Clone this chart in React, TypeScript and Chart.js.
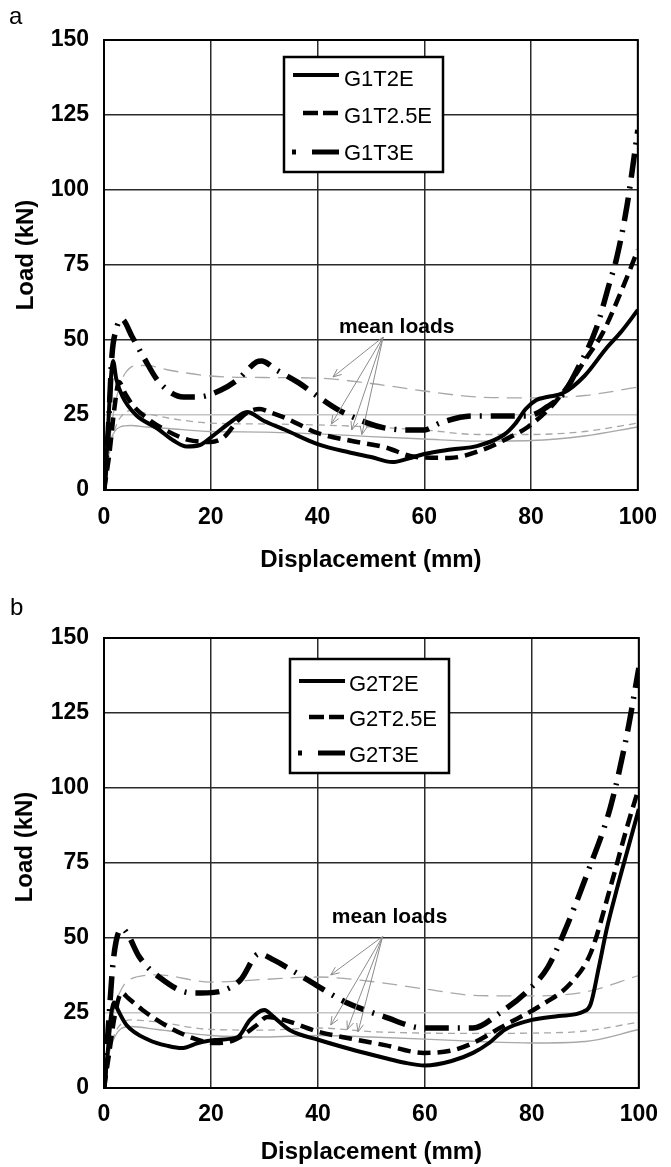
import React, { useEffect, useRef } from 'react';
import { Chart, registerables } from 'chart.js';

Chart.register(...registerables);

const FONT = '"Liberation Sans", Arial, Helvetica, sans-serif';
Chart.defaults.font.family = FONT;

// ---------- Panel a ----------
const G1T2E_X = [0, 0.6, 1.2, 1.7, 2.3, 3.5, 6, 10, 13, 15.5, 18, 20, 24, 26.8, 30, 34, 40, 46, 50, 54, 57, 60, 65, 70, 75, 77, 79, 81, 83, 86, 90, 94, 97, 100];
const G1T2E_Y = [0, 15, 35, 43, 37, 31, 25, 20.5, 16.5, 14.5, 15, 17.5, 23, 26, 23, 20, 15.3, 12.5, 11, 9.3, 10.5, 12, 13.5, 14.7, 18.5, 22, 27, 30, 31, 32.3, 38, 47, 53, 60];

const G1T25E_X = [0, 1, 2, 2.8, 4, 5.5, 8, 11.5, 15.8, 20, 22.5, 25, 27, 29.2, 31, 34, 40, 46, 52.5, 58.5, 64.7, 70.8, 75, 79.4, 83.7, 87.3, 90, 93.4, 97, 100];
const G1T25E_Y = [0, 12, 28, 36, 32, 28, 24, 20, 16.7, 16, 17.7, 23, 26, 27, 26, 24, 19, 16.5, 14.3, 11, 10.7, 13.3, 16.7, 21, 27.7, 35.7, 43, 52.3, 66.7, 80];

const G1T3E_X = [0, 0.8, 1.5, 2.2, 3.3, 5.3, 7.5, 10.3, 14.9, 17.6, 21.9, 25, 28.6, 29.5, 32.3, 36.5, 40.2, 43.9, 49.4, 52.5, 56.7, 60, 62.9, 69, 75, 79.4, 83, 86, 88.6, 92.3, 94.7, 96, 98, 100];
const G1T3E_Y = [0, 20, 45, 53, 57, 51, 44, 36, 31, 31, 33.3, 36.7, 42.7, 43, 40, 35.7, 31, 26.7, 22.3, 20.7, 20, 20, 22.3, 24.7, 24.7, 24.7, 27.7, 32, 40, 54.3, 69, 77, 95, 120];

const G1T2E_MEAN_X = [0, 0.5, 1, 2, 3, 5, 8, 12, 20, 30, 40, 50, 60, 70, 80, 90, 100];
const G1T2E_MEAN_Y = [0, 8, 15, 19.5, 21, 21.5, 21, 20.5, 19.5, 19.3, 18.7, 17.8, 17, 16.3, 16.5, 18, 21];
const G1T25E_MEAN_X = [0, 0.5, 1, 2, 3, 5, 8, 12, 20, 30, 40, 50, 60, 70, 80, 90, 100];
const G1T25E_MEAN_Y = [0, 6, 12, 20, 24, 26.5, 25.5, 24, 22.3, 22, 21.7, 21, 20, 18.5, 18.5, 19.5, 22.3];
const G1T3E_MEAN_X = [0, 0.5, 1, 2, 3, 4, 6, 8, 12, 20, 30, 40, 50, 60, 70, 80, 90, 100];
const G1T3E_MEAN_Y = [0, 8, 16, 28, 35, 39, 41.5, 41.5, 40, 38, 37.5, 37.3, 35.5, 33, 31, 30.7, 31.5, 34.3];

const A_LABELS = ['G1T2E', 'G1T2.5E', 'G1T3E'];
const A_MEAN_TEXT_AT = [44.0, 52.5];
const A_ARROW_FROM = [52.3, 51];
const A_ARROW_TO_X = [42.9, 42.6, 46.4, 48.3];
const A_ARROW_TO_Y = [37.7, 22, 20, 18.5];

// ---------- Panel b ----------
const G2T2E_X = [0, 0.7, 1.3, 1.9, 2.6, 4.2, 8.4, 12, 14.5, 17.6, 20.7, 25, 27.3, 30, 31.7, 34.7, 40.2, 46, 52.5, 56, 60, 65, 69, 72, 75, 80, 85, 89.7, 91, 92.5, 94, 96, 98, 100];
const G2T2E_Y = [0, 12, 24, 28.5, 26, 21, 16, 14, 13.3, 15, 16, 17, 22.7, 26, 23.7, 19.3, 16, 13, 10, 8.5, 7.5, 9, 11.7, 15, 19.5, 22.7, 24, 25.5, 28, 40, 53, 67, 80, 93];

const G2T25E_X = [0, 1, 2, 3.3, 4.5, 7.2, 12.1, 17.6, 20.7, 24.4, 28.6, 30.5, 33.6, 40.2, 46, 52.5, 59.8, 65, 69, 75, 81.2, 87.3, 91, 94.7, 97.8, 100];
const G2T25E_Y = [0, 12, 24, 31.7, 30, 26, 20.3, 16, 15, 16, 21, 23.7, 22.7, 18.7, 16.5, 14.3, 11.7, 12.5, 15, 21, 27, 35, 45, 67, 87, 100];

const G2T3E_X = [0, 0.8, 1.6, 2.4, 3.5, 4.5, 6.6, 10.3, 16.3, 18.2, 22.6, 25.5, 29, 31.7, 36, 40.2, 45.1, 52.5, 59.8, 69, 74, 79.4, 83, 86, 90.4, 94.7, 97.8, 100];
const G2T3E_Y = [0, 20, 40, 50, 53, 51, 43.7, 37, 31.7, 31.7, 32.7, 36, 44.7, 42.7, 38.3, 33.7, 28.7, 23.7, 20, 20, 25, 32.7, 40.3, 51.7, 71.7, 93.7, 118, 140];

const G2T2E_MEAN_X = [0, 0.5, 1, 2, 3, 5, 10, 20, 30, 40, 50, 60, 70, 80, 90, 100];
const G2T2E_MEAN_Y = [0, 6, 12, 17, 19.5, 20.5, 19.5, 17.5, 17, 17.5, 17, 16.3, 15.5, 15, 15.5, 19.5];
const G2T25E_MEAN_X = [0, 0.5, 1, 2, 3, 5, 10, 20, 30, 40, 50, 60, 70, 80, 90, 100];
const G2T25E_MEAN_Y = [0, 6, 12, 18, 21, 22.7, 22, 19.5, 19.3, 20, 18.8, 18.3, 18.2, 18.3, 19, 22];
const G2T3E_MEAN_X = [0, 0.5, 1, 2, 3, 4, 6, 10, 20, 30, 40, 50, 60, 70, 80, 90, 100];
const G2T3E_MEAN_Y = [0, 8, 16, 27, 32, 35, 37, 37.7, 35.3, 36.2, 37, 35.5, 33, 30.8, 30.7, 32, 37.5];

const B_LABELS = ['G2T2E', 'G2T2.5E', 'G2T3E'];
const B_MEAN_TEXT_AT = [42.6, 55];
const B_ARROW_FROM = [52.1, 50.5];
const B_ARROW_TO_X = [42.4, 42.4, 45.5, 47.5];
const B_ARROW_TO_Y = [37.7, 21, 19.5, 18.7];

// ---------- shared ----------
const X_MIN = 0, X_MAX = 100, X_STEP = 20;
const Y_MIN = 0, Y_MAX = 150, Y_STEP = 25;
const X_TITLE = 'Displacement (mm)';
const Y_TITLE = 'Load (kN)';
const MEAN_TEXT = 'mean loads';

const SOLID = { borderColor: '#000', borderWidth: 4, borderDash: [] as number[] };
const DASHED = { borderColor: '#000', borderWidth: 4.5, borderDash: [13, 7] };
const LONGDASH = { borderColor: '#000', borderWidth: 5.5, borderDash: [24, 9, 2, 9] };
const MEAN_SOLID = { borderColor: '#a8a8a8', borderWidth: 1.3, borderDash: [] as number[] };
const MEAN_DASHED = { borderColor: '#a8a8a8', borderWidth: 1.3, borderDash: [7, 5] };
const MEAN_LONG = { borderColor: '#a8a8a8', borderWidth: 1.3, borderDash: [15, 8] };

function series(label: string, xs: number[], ys: number[], style: any) {
  return {
    label,
    data: xs.map((x, i) => ({ x, y: ys[i] })),
    ...style,
    pointRadius: 0,
    fill: false,
    cubicInterpolationMode: 'monotone',
    borderCapStyle: 'butt',
  };
}

const decorPlugin = {
  id: 'decor',
  afterDatasetsDraw(chart: any, _args: any, o: any) {
    const ctx = chart.ctx as CanvasRenderingContext2D;
    const xs = chart.scales.x;
    const ys = chart.scales.y;
    const { left, top, right, bottom } = chart.chartArea;
    ctx.save();

    // arrows
    ctx.strokeStyle = '#8c8c8c';
    ctx.lineWidth = 1;
    ctx.setLineDash([]);
    const ox = xs.getPixelForValue(o.arrowFrom[0]);
    const oy = ys.getPixelForValue(o.arrowFrom[1]);
    for (let i = 0; i < o.arrowToX.length; i++) {
      const tx = xs.getPixelForValue(o.arrowToX[i]);
      const ty = ys.getPixelForValue(o.arrowToY[i]);
      ctx.beginPath();
      ctx.moveTo(ox, oy);
      ctx.lineTo(tx, ty);
      const ang = Math.atan2(oy - ty, ox - tx);
      const hl = 9;
      ctx.moveTo(tx + hl * Math.cos(ang + 0.4), ty + hl * Math.sin(ang + 0.4));
      ctx.lineTo(tx, ty);
      ctx.lineTo(tx + hl * Math.cos(ang - 0.4), ty + hl * Math.sin(ang - 0.4));
      ctx.stroke();
    }

    // mean loads label
    ctx.fillStyle = '#000';
    ctx.font = `bold 21px ${FONT}`;
    ctx.textAlign = 'left';
    ctx.textBaseline = 'alphabetic';
    ctx.fillText(o.meanText, xs.getPixelForValue(o.meanAt[0]), ys.getPixelForValue(o.meanAt[1]));

    // frame
    ctx.strokeStyle = '#000';
    ctx.lineWidth = 2;
    ctx.strokeRect(left, top, right - left, bottom - top);

    // legend
    const [bx, by, bw, bh] = o.legendBox;
    ctx.fillStyle = '#fff';
    ctx.fillRect(bx, by, bw, bh);
    ctx.lineWidth = 2.5;
    ctx.strokeRect(bx, by, bw, bh);
    ctx.font = `22px ${FONT}`;
    ctx.fillStyle = '#000';
    for (let i = 0; i < 3; i++) {
      const s = o.samples[i];
      const ly = by + o.legendLineY[i];
      ctx.beginPath();
      ctx.lineWidth = s.w;
      ctx.setLineDash(s.dash);
      ctx.moveTo(bx + s.x0, ly);
      ctx.lineTo(bx + s.x1, ly);
      ctx.stroke();
      ctx.setLineDash([]);
      ctx.fillText(chart.data.datasets[i].label, bx + o.legendTextX, by + o.legendTextY[i]);
    }

    // panel letter
    ctx.font = `24px ${FONT}`;
    ctx.fillText(o.letter, o.letterPos[0], o.letterPos[1]);

    // y title
    ctx.font = `bold 24px ${FONT}`;
    ctx.translate(o.yTitlePos[0], o.yTitlePos[1]);
    ctx.rotate(-Math.PI / 2);
    ctx.textAlign = 'center';
    ctx.fillText(Y_TITLE, 0, 0);
    ctx.restore();
  },
};

const LEGEND_SAMPLES = [
  { x0: 9, x1: 55, dash: [] as number[], w: 4 },
  { x0: 19, x1: 54, dash: [15, 5], w: 4.5 },
  { x0: 8, x1: 55, dash: [4, 16, 27, 0], w: 5 },
];

function makeConfig(p: any) {
  return {
    type: 'line',
    data: { datasets: p.datasets },
    plugins: [decorPlugin],
    options: {
      animation: false,
      responsive: false,
      events: [],
      layout: { padding: { left: 0, right: 22, top: 40, bottom: 0 } },
      plugins: {
        legend: { display: false },
        tooltip: { enabled: false },
        decor: p.decor,
      },
      scales: {
        x: {
          type: 'linear',
          min: X_MIN,
          max: X_MAX,
          ticks: { stepSize: X_STEP, color: '#000', padding: p.xTickPad, font: { size: 23, weight: 'bold' } },
          grid: { color: '#2a2a2a', lineWidth: 1.5, drawTicks: false },
          border: { display: false },
          title: { display: true, text: X_TITLE, color: '#000', font: { size: 24, weight: 'bold' }, padding: { top: 0, bottom: p.xTitlePad } },
          afterFit: (s: any) => { s.height = p.xHeight; },
        },
        y: {
          type: 'linear',
          min: Y_MIN,
          max: Y_MAX,
          ticks: { stepSize: Y_STEP, color: '#000', padding: 15, font: { size: 23, weight: 'bold' } },
          grid: {
            color: (c: any) => (c.tick && c.tick.value === 25 ? '#c4c4c4' : '#2a2a2a'),
            lineWidth: 1.5,
            drawTicks: false,
          },
          border: { display: false },
          afterFit: (s: any) => { s.width = 104; },
        },
      },
    },
  };
}

const CONFIG_A = () => makeConfig({
  datasets: [
    series(A_LABELS[0], G1T2E_X, G1T2E_Y, SOLID),
    series(A_LABELS[1], G1T25E_X, G1T25E_Y, DASHED),
    series(A_LABELS[2], G1T3E_X, G1T3E_Y, LONGDASH),
    series('G1T2E mean', G1T2E_MEAN_X, G1T2E_MEAN_Y, MEAN_SOLID),
    series('G1T2.5E mean', G1T25E_MEAN_X, G1T25E_MEAN_Y, MEAN_DASHED),
    series('G1T3E mean', G1T3E_MEAN_X, G1T3E_MEAN_Y, MEAN_LONG),
  ],
  xTickPad: 14,
  xTitlePad: 23,
  xHeight: 108,
  decor: {
    letter: 'a',
    letterPos: [9, 24],
    yTitlePos: [33, 255],
    legendBox: [284, 57, 159, 115],
    legendLineY: [18, 56, 95],
    legendTextY: [29, 66, 103],
    legendTextX: 60,
    samples: LEGEND_SAMPLES,
    meanText: MEAN_TEXT,
    meanAt: A_MEAN_TEXT_AT,
    arrowFrom: A_ARROW_FROM,
    arrowToX: A_ARROW_TO_X,
    arrowToY: A_ARROW_TO_Y,
  },
});

const CONFIG_B = () => makeConfig({
  datasets: [
    series(B_LABELS[0], G2T2E_X, G2T2E_Y, SOLID),
    series(B_LABELS[1], G2T25E_X, G2T25E_Y, DASHED),
    series(B_LABELS[2], G2T3E_X, G2T3E_Y, LONGDASH),
    series('G2T2E mean', G2T2E_MEAN_X, G2T2E_MEAN_Y, MEAN_SOLID),
    series('G2T2.5E mean', G2T25E_MEAN_X, G2T25E_MEAN_Y, MEAN_DASHED),
    series('G2T3E mean', G2T3E_MEAN_X, G2T3E_MEAN_Y, MEAN_LONG),
  ],
  xTickPad: 13,
  xTitlePad: 0,
  xHeight: 79,
  decor: {
    letter: 'b',
    letterPos: [10, 17],
    yTitlePos: [32, 249],
    legendBox: [290, 61, 159, 114],
    legendLineY: [22, 58, 94],
    legendTextY: [32, 67, 103],
    legendTextX: 59,
    samples: LEGEND_SAMPLES,
    meanText: MEAN_TEXT,
    meanAt: B_MEAN_TEXT_AT,
    arrowFrom: B_ARROW_FROM,
    arrowToX: B_ARROW_TO_X,
    arrowToY: B_ARROW_TO_Y,
  },
});

function Panel({ top, height, makeCfg }: { top: number; height: number; makeCfg: () => any }) {
  const ref = useRef<HTMLCanvasElement>(null);
  useEffect(() => {
    const chart = new Chart(ref.current as HTMLCanvasElement, makeCfg());
    return () => chart.destroy();
  }, []);
  return (
    <canvas
      ref={ref}
      width={671}
      height={height}
      style={{ position: 'absolute', left: 0, top, width: 671, height, display: 'block' }}
    />
  );
}

export default function App() {
  return (
    <div style={{ position: 'absolute', left: 0, top: 0, width: 671, height: 1167, background: '#fff', overflow: 'hidden' }}>
      <Panel top={0} height={598} makeCfg={CONFIG_A} />
      <Panel top={598} height={569} makeCfg={CONFIG_B} />
    </div>
  );
}
